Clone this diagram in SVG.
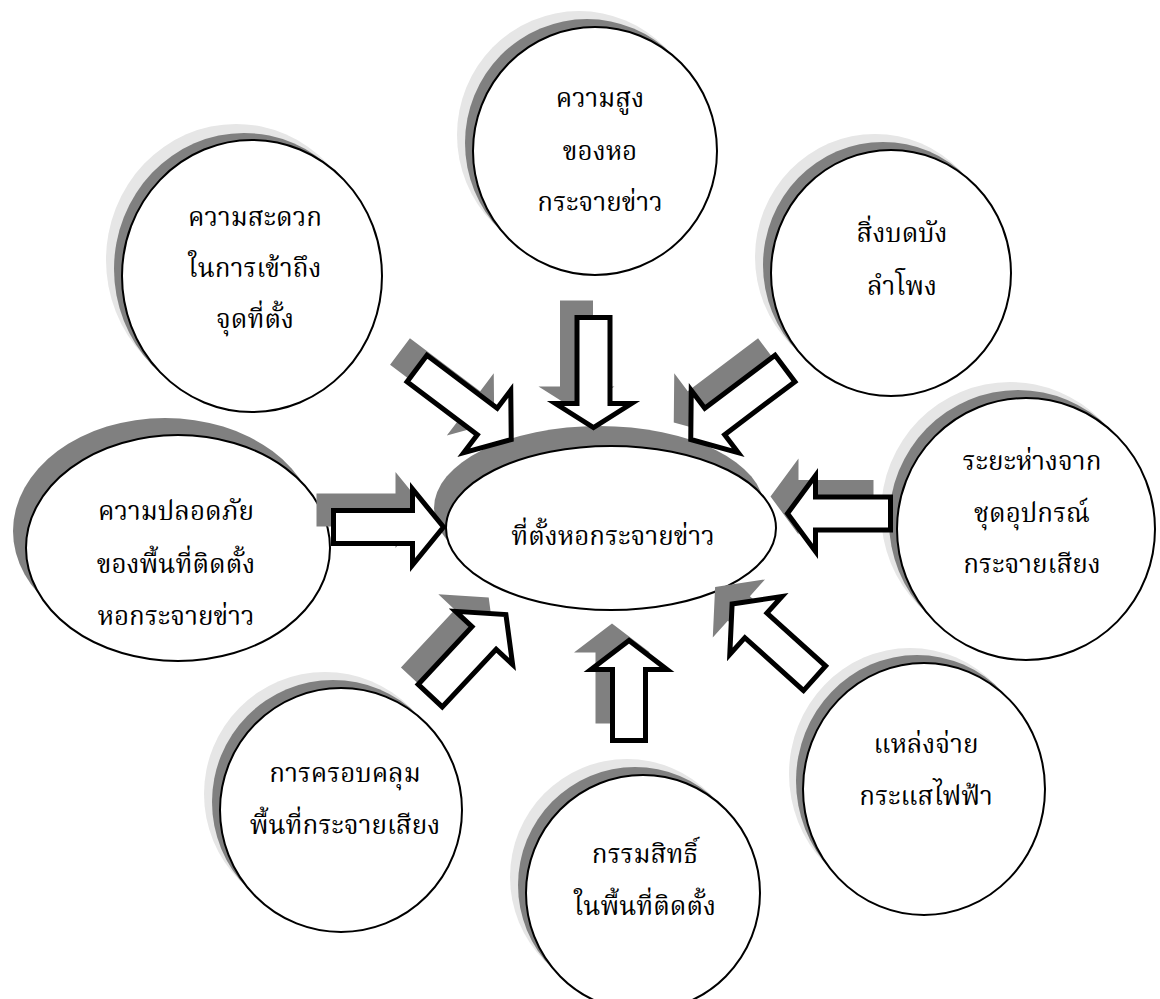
<svg xmlns="http://www.w3.org/2000/svg" width="1160" height="999" viewBox="0 0 1160 999">
<style>
.sh2{fill:#e6e6e6}
.sh1{fill:#808080}
.node{fill:#fff;stroke:#000;stroke-width:2}
.lbl{font-family:"Noto Serif Thai","Noto Sans Thai","Noto Sans","DejaVu Sans",sans-serif;font-size:26px;text-anchor:middle;fill:#000}
.arr{fill:#fff;stroke:#000;stroke-width:5;stroke-linejoin:miter;stroke-miterlimit:10}
.ash{fill:#808080}
</style>
<rect width="1160" height="999" fill="#fff"/>
<g id="n-height">
<ellipse class="sh2" cx="579" cy="135" rx="122" ry="124"/>
<ellipse class="sh1" cx="587" cy="143" rx="122" ry="124"/>
<ellipse class="node" cx="595" cy="151" rx="122" ry="124"/>
<text class="lbl" x="600" y="107">ความสูง</text>
<text class="lbl" x="600" y="160">ของหอ</text>
<text class="lbl" x="600" y="211">กระจายข่าว</text>
</g>
<g id="n-access">
<ellipse class="sh2" cx="236" cy="260" rx="130" ry="136"/>
<ellipse class="sh1" cx="244" cy="269" rx="130" ry="136"/>
<ellipse class="node" cx="252" cy="276" rx="130" ry="136"/>
<text class="lbl" x="255" y="226">ความสะดวก</text>
<text class="lbl" x="255" y="277">ในการเข้าถึง</text>
<text class="lbl" x="255" y="328">จุดที่ตั้ง</text>
</g>
<g id="n-obstacle">
<ellipse class="sh2" cx="875" cy="257" rx="120" ry="123"/>
<ellipse class="sh1" cx="883" cy="265" rx="120" ry="123"/>
<ellipse class="node" cx="891" cy="273" rx="120" ry="123"/>
<text class="lbl" x="902" y="242">สิ่งบดบัง</text>
<text class="lbl" x="902" y="295">ลำโพง</text>
</g>
<g id="n-safety">
<ellipse class="sh1" cx="165" cy="531" rx="152" ry="113"/>
<ellipse class="node" cx="178" cy="548" rx="152" ry="113"/>
<text class="lbl" x="176" y="520">ความปลอดภัย</text>
<text class="lbl" x="176" y="573">ของพื้นที่ติดตั้ง</text>
<text class="lbl" x="176" y="625">หอกระจายข่าว</text>
</g>
<g id="n-distance">
<ellipse class="sh2" cx="1010" cy="513" rx="129" ry="131"/>
<ellipse class="sh1" cx="1018" cy="521" rx="129" ry="131"/>
<ellipse class="node" cx="1026" cy="529" rx="129" ry="131"/>
<text class="lbl" x="1032" y="470">ระยะห่างจาก</text>
<text class="lbl" x="1032" y="522">ชุดอุปกรณ์</text>
<text class="lbl" x="1032" y="573">กระจายเสียง</text>
</g>
<g id="n-power">
<ellipse class="sh2" cx="910" cy="774" rx="121" ry="126"/>
<ellipse class="sh1" cx="917" cy="781" rx="121" ry="126"/>
<ellipse class="node" cx="924" cy="789" rx="121" ry="126"/>
<text class="lbl" x="926" y="753">แหล่งจ่าย</text>
<text class="lbl" x="926" y="805">กระแสไฟฟ้า</text>
</g>
<g id="n-ownership">
<ellipse class="sh2" cx="627" cy="877" rx="117" ry="118"/>
<ellipse class="sh1" cx="635" cy="885" rx="117" ry="118"/>
<ellipse class="node" cx="643" cy="893" rx="117" ry="118"/>
<text class="lbl" x="645" y="863">กรรมสิทธิ์</text>
<text class="lbl" x="645" y="915">ในพื้นที่ติดตั้ง</text>
</g>
<g id="n-coverage">
<ellipse class="sh2" cx="325" cy="794" rx="121" ry="122"/>
<ellipse class="sh1" cx="333" cy="802" rx="121" ry="122"/>
<ellipse class="node" cx="341" cy="810" rx="121" ry="122"/>
<text class="lbl" x="345" y="782">การครอบคลุม</text>
<text class="lbl" x="345" y="834">พื้นที่กระจายเสียง</text>
</g>
<g id="n-center">
<ellipse class="sh1" cx="599" cy="508" rx="165" ry="82"/>
<ellipse class="node" cx="611" cy="528" rx="165" ry="82"/>
<text class="lbl" x="613" y="545">ที่ตั้งหอกระจายข่าว</text>
</g>
<g id="connectors">
<!-- A top, down -->
<path class="ash" transform="translate(576.5,300.5) rotate(90)" d="M0,-16.5H86V-38L110,0L86,38V16.5H0Z"/>
<path class="arr" transform="translate(593.5,317.5) rotate(90)" d="M0,-16.5H86V-38L110,0L86,38V16.5H0Z"/>
<!-- B top-left -->
<path class="ash" transform="translate(400,351.5) rotate(37)" d="M0,-16.5H88V-39L118,0L88,39V16.5H0Z"/>
<path class="arr" transform="translate(417,368.5) rotate(37)" d="M0,-16.5H88V-39L118,0L88,39V16.5H0Z"/>
<!-- E top-right -->
<path class="ash" transform="translate(768,351.5) rotate(143)" d="M0,-16.5H88V-39L118,0L88,39V16.5H0Z"/>
<path class="arr" transform="translate(785,368.5) rotate(143)" d="M0,-16.5H88V-39L118,0L88,39V16.5H0Z"/>
<!-- C right, left-pointing -->
<path class="ash" transform="translate(873.5,496.5) rotate(180)" d="M0,-16.5H75V-38L103,0L75,38V16.5H0Z"/>
<path class="arr" transform="translate(890.5,513.5) rotate(180)" d="M0,-16.5H75V-38L103,0L75,38V16.5H0Z"/>
<!-- D left, right-pointing -->
<path class="ash" transform="translate(316.5,510) rotate(0)" d="M0,-16.5H79V-38L110,0L79,38V16.5H0Z"/>
<path class="arr" transform="translate(333.5,527) rotate(0)" d="M0,-16.5H79V-38L110,0L79,38V16.5H0Z"/>
<!-- F bottom-left -->
<path class="ash" transform="translate(413,678.7) rotate(-47)" d="M0,-16.5H79V-39L111,0L79,39V16.5H0Z"/>
<path class="arr" transform="translate(430.2,695.7) rotate(-47)" d="M0,-16.5H79V-39L111,0L79,39V16.5H0Z"/>
<!-- G bottom, up -->
<path class="ash" transform="translate(612,723.5) rotate(-90)" d="M0,-16.5H71V-38L100,0L71,38V16.5H0Z"/>
<path class="arr" transform="translate(629,740.5) rotate(-90)" d="M0,-16.5H71V-38L100,0L71,38V16.5H0Z"/>
<!-- H bottom-right -->
<path class="ash" transform="translate(797.6,661.3) rotate(-138)" d="M0,-16.5H79V-39L111,0L79,39V16.5H0Z"/>
<path class="arr" transform="translate(814.6,678.3) rotate(-138)" d="M0,-16.5H79V-39L111,0L79,39V16.5H0Z"/>
</g>
</svg>
